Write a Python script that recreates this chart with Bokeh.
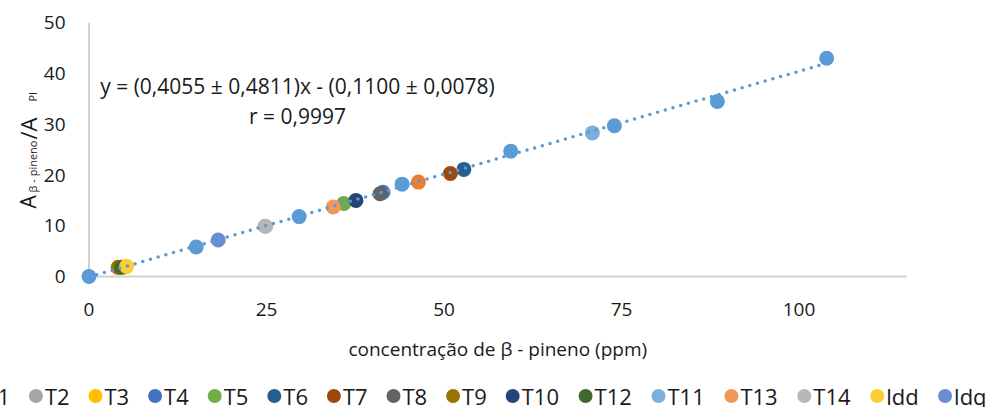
import math
from bokeh.plotting import figure
from bokeh.models import Range1d, Label, ColumnDataSource
from bokeh.core.properties import value
from bokeh.embed import file_html
from bokeh.resources import INLINE

# ---- data -------------------------------------------------------------
# calibration standards (concentration in ppm, area ratio)
calib_x = [0.0, 15.1, 29.6, 44.1, 59.4, 74.0, 88.5, 103.9]
calib_y = [0.0, 5.8, 11.8, 18.2, 24.7, 29.7, 34.5, 43.0]

# samples and limits, in legend order
sample_names = ["T1", "T2", "T3", "T4", "T5", "T6", "T7", "T8", "T9", "T10",
                "T12", "T11", "T13", "T14", "ldd", "ldq"]
sample_x = [46.4, 24.8, 5.1, 41.4, 35.9, 52.8, 50.9, 41.0, 4.1, 37.6,
            4.6, 70.9, 34.4, 24.9, 5.3, 18.2]
sample_y = [18.6, 9.9, 1.9, 16.6, 14.4, 21.1, 20.3, 16.3, 1.8, 15.0,
            1.8, 28.3, 13.7, 9.9, 2.0, 7.2]
sample_colors = ["#ED7D31", "#A5A5A5", "#FFC000", "#4472C4", "#70AD47",
                 "#255E91", "#9E480E", "#636363", "#997300", "#264478",
                 "#43682B", "#7CAFDD", "#F1975A", "#B7B7B7", "#FFCD33",
                 "#698ED0"]

# linear fit
slope = 0.4055
intercept = -0.1100
equation_text = "y = (0,4055 \u00b1 0,4811)x - (0,1100 \u00b1 0,0078)"
r_text = "r = 0,9997"

x_ticks = [0, 25, 50, 75, 100]
y_ticks = [0, 10, 20, 30, 40, 50]
x_title = "concentra\u00e7\u00e3o de \u03b2 - pineno (ppm)"

# ---- layout helpers (pixel geometry of the canvas) --------------------
W, H = 987, 407
X0PX, XPX = 88.5, 7.10      # pixel of x = 0, pixels per ppm
Y0PX, YPX = 276.0, 5.075    # pixel of y = 0, pixels per unit
AX_RIGHT = 906              # right end of the x axis line

def dx(px):
    return (px - X0PX) / XPX

def dy(py):
    return (Y0PX - py) / YPX

FONT = "Open Sans"
TXT = "#1a1a1a"
AXIS_GREY = "#cfcfcf"

# the frame covers the whole canvas; axes are drawn by hand so that
# nothing (markers at zero, tick labels, legend) is clipped
p = figure(width=W, height=H, output_backend="svg", toolbar_location=None,
           x_range=Range1d(dx(0), dx(W)), y_range=Range1d(dy(H), dy(0)),
           x_axis_location=None, y_axis_location=None,
           min_border=0, min_border_left=0, min_border_right=0,
           min_border_top=0, min_border_bottom=0)
p.outline_line_color = None
p.grid.visible = False
p.background_fill_color = "white"
p.border_fill_color = "white"

# axis lines
y_max = y_ticks[-1]
x_max = dx(AX_RIGHT)
p.segment(x0=[0, 0], y0=[0, 0], x1=[x_max, 0], y1=[0, y_max],
          line_color=AXIS_GREY, line_width=2)

# tick labels
xt = ColumnDataSource(dict(x=x_ticks, y=[dy(309)] * len(x_ticks),
                           t=[str(v) for v in x_ticks]))
p.text(x="x", y="y", text="t", source=xt, text_align="center",
       text_baseline="middle", text_font=value(FONT),
       text_font_size="19px", text_color=TXT)
yt = ColumnDataSource(dict(x=[dx(65)] * len(y_ticks), y=y_ticks,
                           t=[str(v) for v in y_ticks]))
p.text(x="x", y="y", text="t", source=yt, text_align="right",
       text_baseline="middle", text_font=value(FONT),
       text_font_size="19px", text_color=TXT)

# x axis title
p.add_layout(Label(x=(0 + x_max) / 2, y=dy(348), text=x_title,
                   text_align="center", text_baseline="middle",
                   text_font=FONT, text_font_size="19px", text_color=TXT))

# y axis title with subscripts, rotated
ylab_parts = [("A", "21px", 27, 208), ("\u03b2 - pineno", "11px", 32, 192),
              ("/A", "22px", 27, 139), ("PI", "11px", 32, 101)]
for txt, fs, bx, by in ylab_parts:
    p.add_layout(Label(x=dx(bx), y=dy(by), text=txt, angle=math.pi / 2,
                       text_align="left", text_baseline="alphabetic",
                       text_font=FONT, text_font_size=fs, text_color=TXT))

# markers
p.scatter(calib_x, calib_y, size=15, color="#5B9BD5", line_color=None)
for x, y, c in zip(sample_x, sample_y, sample_colors):
    p.scatter([x], [y], size=15, fill_color=c, line_color=None)

# dotted fit line drawn over the markers
fit_x = [min(calib_x), max(calib_x)]
fit_y = [slope * v + intercept for v in fit_x]
p.line(fit_x, fit_y, line_color="#5B9BD5", line_width=3.5,
       line_dash="0 8", line_cap="round")

# equation annotation
p.add_layout(Label(x=dx(297), y=dy(85), text=equation_text, text_align="center",
                   text_baseline="middle", text_font=FONT,
                   text_font_size="21px", text_color=TXT))
p.add_layout(Label(x=dx(297), y=dy(115), text=r_text, text_align="center",
                   text_baseline="middle", text_font=FONT,
                   text_font_size="21px", text_color=TXT))

# horizontal legend along the bottom; it starts past the left edge
LEG_Y = 395.5
LEG_FIRST = -24.2       # marker centre of the first entry, px

def entry_width(label):
    # rough advance of one legend entry: marker + gap + label
    return 33 + sum(8.3 if ch == "l" else 13.3 for ch in label)

marker_px = []
cur = LEG_FIRST
for n in sample_names:
    marker_px.append(cur)
    cur += entry_width(n)
leg = ColumnDataSource(dict(
    mx=[dx(v) for v in marker_px],
    tx=[dx(v + 9) for v in marker_px],
    y=[dy(LEG_Y)] * len(sample_names),
    c=sample_colors, t=sample_names))
p.scatter(x="mx", y="y", source=leg, size=14, fill_color="c", line_color=None)
p.text(x="tx", y="y", text="t", source=leg, text_align="left",
       text_baseline="middle", text_font=value(FONT),
       text_font_size="22px", text_color=TXT)

open("out.html", "w").write(file_html(p, INLINE))
